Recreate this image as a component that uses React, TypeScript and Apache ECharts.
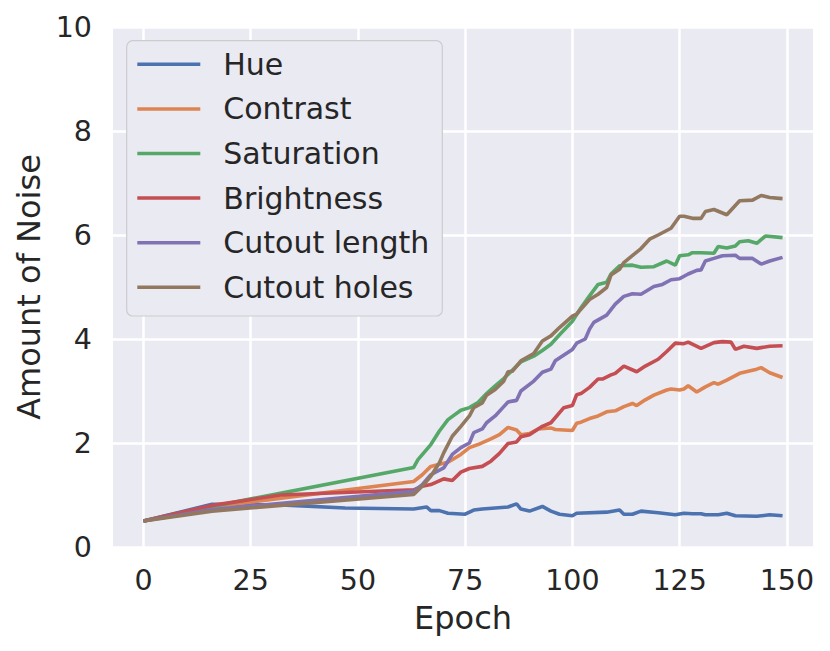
import React, { useEffect, useRef } from "react";
import * as echarts from "echarts";

const seriesNames = ["Hue", "Contrast", "Saturation", "Brightness", "Cutout length", "Cutout holes"];
const seriesColors = ["#4C72B0", "#DD8452", "#55A868", "#C44E52", "#8172B3", "#937860"];
const xTicks = [0, 25, 50, 75, 100, 125, 150];

const hue: [number, number][] = [
  [0, 0.5], [16, 0.82], [32, 0.81], [47, 0.75], [63, 0.73], [66, 0.77], [67, 0.7], [69, 0.7],
  [71, 0.65], [75, 0.63], [77, 0.71], [79, 0.73], [85, 0.77], [87, 0.83], [88, 0.73], [90, 0.69],
  [93, 0.78], [95, 0.69], [97, 0.63], [100, 0.6], [101, 0.65], [108, 0.67], [111, 0.71], [112, 0.63],
  [114, 0.63], [116, 0.69], [120, 0.66], [124, 0.62], [126, 0.65], [128, 0.64], [130, 0.64], [131, 0.62],
  [134, 0.62], [136, 0.65], [138, 0.6], [143, 0.59], [146, 0.62], [149, 0.6],
];

const contrast: [number, number][] = [
  [0, 0.5], [16, 0.77], [63, 1.26], [65, 1.39], [67, 1.55], [69, 1.59], [71, 1.63], [74, 1.78],
  [76, 1.91], [78, 1.97], [81, 2.08], [83, 2.16], [85, 2.3], [87, 2.25], [88, 2.16], [90, 2.18],
  [92, 2.27], [95, 2.29], [96, 2.26], [100, 2.24], [101, 2.38], [102, 2.4], [104, 2.47], [106, 2.52],
  [108, 2.6], [110, 2.62], [112, 2.7], [114, 2.76], [115, 2.72], [117, 2.83], [119, 2.92], [122, 3.02],
  [123, 3.04], [125, 3.02], [126, 3.04], [127, 3.1], [129, 2.98], [131, 3.08], [133, 3.16], [134, 3.13],
  [136, 3.21], [139, 3.34], [141, 3.38], [143, 3.42], [144, 3.45], [146, 3.35], [149, 3.26],
];

const saturation: [number, number][] = [
  [0, 0.5], [16, 0.78], [63, 1.53], [64, 1.68], [67, 1.97], [69, 2.23], [71, 2.45], [74, 2.63],
  [76, 2.68], [78, 2.78], [80, 2.95], [82, 3.1], [84, 3.24], [86, 3.4], [88, 3.56], [91, 3.67],
  [93, 3.78], [95, 3.9], [97, 4.08], [100, 4.34], [102, 4.6], [104, 4.83], [106, 5.05], [108, 5.09],
  [109, 5.25], [111, 5.41], [114, 5.42], [116, 5.38], [119, 5.39], [122, 5.5], [124, 5.42], [125, 5.6],
  [127, 5.62], [128, 5.66], [130, 5.66], [133, 5.65], [134, 5.78], [136, 5.75], [138, 5.79], [139, 5.87],
  [141, 5.89], [143, 5.84], [145, 5.98], [149, 5.95],
];

const brightness: [number, number][] = [
  [0, 0.5], [16, 0.8], [32, 1.0], [63, 1.1], [65, 1.17], [67, 1.2], [70, 1.31], [72, 1.28],
  [74, 1.44], [76, 1.51], [79, 1.55], [81, 1.65], [83, 1.8], [85, 1.99], [87, 2.02], [88, 2.12],
  [90, 2.16], [93, 2.32], [95, 2.39], [98, 2.68], [100, 2.72], [101, 2.93], [102, 2.95], [104, 3.07],
  [106, 3.23], [107, 3.23], [109, 3.31], [110, 3.34], [112, 3.48], [115, 3.37], [117, 3.48], [120, 3.61],
  [122, 3.76], [124, 3.92], [126, 3.91], [127, 3.94], [130, 3.82], [133, 3.93], [135, 3.95], [137, 3.94],
  [138, 3.8], [140, 3.86], [143, 3.82], [146, 3.86], [149, 3.87],
];

const cutoutLength: [number, number][] = [
  [0, 0.5], [16, 0.72], [63, 1.07], [65, 1.2], [67, 1.39], [70, 1.52], [71, 1.65], [72, 1.78],
  [74, 1.91], [76, 2.0], [77, 2.2], [79, 2.27], [80, 2.39], [82, 2.52], [84, 2.7], [85, 2.79],
  [87, 2.82], [88, 3.0], [91, 3.19], [93, 3.36], [95, 3.42], [96, 3.58], [100, 3.8], [101, 3.92],
  [103, 4.0], [104, 4.19], [105, 4.32], [108, 4.46], [110, 4.67], [112, 4.82], [114, 4.87], [116, 4.86],
  [119, 5.01], [121, 5.05], [123, 5.14], [125, 5.16], [127, 5.25], [129, 5.32], [130, 5.33], [131, 5.5],
  [133, 5.55], [135, 5.6], [138, 5.61], [139, 5.55], [142, 5.55], [144, 5.44], [146, 5.5], [149, 5.57],
];

const cutoutHoles: [number, number][] = [
  [0, 0.5], [16, 0.69], [63, 1.01], [65, 1.17], [67, 1.36], [69, 1.62], [70, 1.81], [72, 2.13],
  [74, 2.32], [76, 2.52], [77, 2.68], [79, 2.77], [80, 2.92], [82, 3.03], [84, 3.19], [85, 3.37],
  [86, 3.38], [88, 3.58], [91, 3.72], [93, 3.96], [95, 4.06], [97, 4.22], [100, 4.44], [101, 4.48],
  [104, 4.76], [106, 4.86], [108, 4.99], [109, 5.23], [111, 5.34], [112, 5.47], [116, 5.74], [118, 5.92],
  [120, 6.0], [123, 6.13], [125, 6.36], [126, 6.36], [128, 6.32], [130, 6.32], [131, 6.45], [133, 6.49],
  [136, 6.39], [139, 6.66], [142, 6.67], [144, 6.76], [146, 6.72], [149, 6.7],
];

const seriesData = [hue, contrast, saturation, brightness, cutoutLength, cutoutHoles];

const FONT = "DejaVu Sans";
const TEXT = "#262626";

export default function App() {
  const ref = useRef<HTMLDivElement>(null);
  useEffect(() => {
    if (!ref.current) return;
    const chart = echarts.init(ref.current, undefined, { renderer: "svg" });
    chart.setOption({
      animation: false,
      textStyle: { fontFamily: FONT, color: TEXT },
      grid: {
        left: 113,
        right: 17,
        top: 27,
        bottom: 104,
        show: true,
        backgroundColor: "#EAEAF2",
        borderWidth: 0,
      },
      legend: {
        data: seriesNames,
        orient: "vertical",
        left: 126.7,
        top: 40.7,
        padding: [8.6, 13, 13.7, 10.6],
        itemGap: 14.6,
        itemWidth: 63,
        itemHeight: 3.5,
        icon: "rect",
        backgroundColor: "#EAEAF2",
        borderColor: "#CCCCD0",
        borderWidth: 1.2,
        borderRadius: 6,
        textStyle: {
          fontFamily: FONT,
          fontSize: 30,
          lineHeight: 30,
          color: TEXT,
          padding: [0, 0, 0, 18],
        },
      },
      xAxis: {
        type: "value",
        min: -7.1,
        max: 156.1,
        name: "Epoch",
        nameLocation: "middle",
        nameGap: 55,
        nameTextStyle: { fontFamily: FONT, fontSize: 32, color: TEXT },
        axisLine: { show: false },
        axisTick: { show: false, customValues: xTicks },
        axisLabel: {
          customValues: xTicks,
          fontFamily: FONT,
          fontSize: 28.5,
          color: TEXT,
          margin: 19,
        },
        splitLine: { show: true, lineStyle: { color: "#FFFFFF", width: 2.5 } },
      },
      yAxis: {
        type: "value",
        min: 0,
        max: 10,
        interval: 2,
        name: "Amount of Noise",
        nameLocation: "middle",
        nameGap: 67,
        nameTextStyle: { fontFamily: FONT, fontSize: 32, color: TEXT },
        axisLine: { show: false },
        axisTick: { show: false },
        axisLabel: { fontFamily: FONT, fontSize: 28.5, color: TEXT, margin: 21 },
        splitLine: { show: true, lineStyle: { color: "#FFFFFF", width: 2.5 } },
      },
      series: seriesNames.map((name, i) => ({
        name,
        type: "line",
        data: seriesData[i],
        showSymbol: false,
        symbol: "none",
        color: seriesColors[i],
        lineStyle: { color: seriesColors[i], width: 3.6 },
      })),
    });
    return () => chart.dispose();
  }, []);
  return (
    <div
      ref={ref}
      style={{ position: "absolute", left: 0, top: 0, width: 830, height: 651, background: "#FFFFFF" }}
    />
  );
}
